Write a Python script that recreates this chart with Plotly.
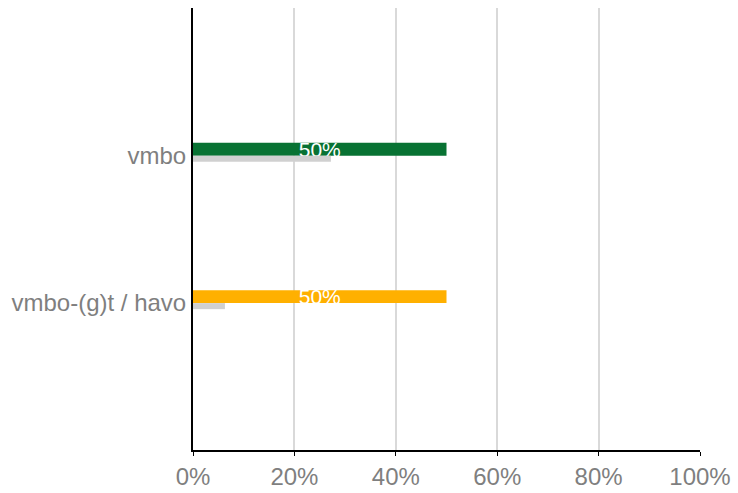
import plotly.graph_objects as go

categories = ["vmbo", "vmbo-(g)t / havo"]
main_values = [0.50, 0.50]
main_colors = ["#087233", "#FFB000"]
compare_values = [0.272, 0.063]
value_labels = ["50%", "50%"]
x_ticks = [0, 0.2, 0.4, 0.6, 0.8, 1.0]
x_tick_labels = ["0%", "20%", "40%", "60%", "80%", "100%"]

FONT = "Arial, 'Liberation Sans', sans-serif"

fig = go.Figure()
fig.add_trace(go.Bar(
    y=categories, x=main_values, orientation="h",
    marker=dict(color=main_colors, line=dict(width=0)),
    width=0.088, offset=-0.085,
    text=value_labels, textposition="inside", insidetextanchor="middle",
    constraintext="none",
    textfont=dict(color="white", size=21, family=FONT),
    showlegend=False, hoverinfo="skip",
))
fig.add_trace(go.Bar(
    y=categories, x=compare_values, orientation="h",
    marker=dict(color="#D0D0D0", line=dict(width=0)),
    width=0.041, offset=0.003,
    showlegend=False, hoverinfo="skip",
))

fig.update_layout(
    width=738, height=493,
    margin=dict(l=193, r=38, t=8, b=43, autoexpand=False),
    plot_bgcolor="white", paper_bgcolor="white",
    barmode="overlay",
    font=dict(family=FONT, color="#7F7F7F", size=24),
)
fig.update_xaxes(
    range=[0, 1.0], tickvals=x_ticks, ticktext=x_tick_labels,
    showgrid=True, gridcolor="#D9D9D9", gridwidth=2,
    showline=True, linecolor="black", linewidth=2,
    ticks="outside", ticklen=4, tickcolor="black", tickwidth=1,
    tickfont=dict(size=24, color="#7F7F7F"),
    zeroline=False, fixedrange=True, automargin=False,
)
fig.update_yaxes(
    type="category", categoryorder="array", categoryarray=categories,
    range=[2.0, -1.0],
    showgrid=False, showline=True, linecolor="black", linewidth=2,
    ticks="", ticklabelstandoff=0,
    tickfont=dict(size=24, color="#7F7F7F"),
    zeroline=False, fixedrange=True, automargin=False,
)

fig.write_html(
    "out.html",
    config={"displayModeBar": False},
    post_script="document.body.style.margin='0px';",
)
